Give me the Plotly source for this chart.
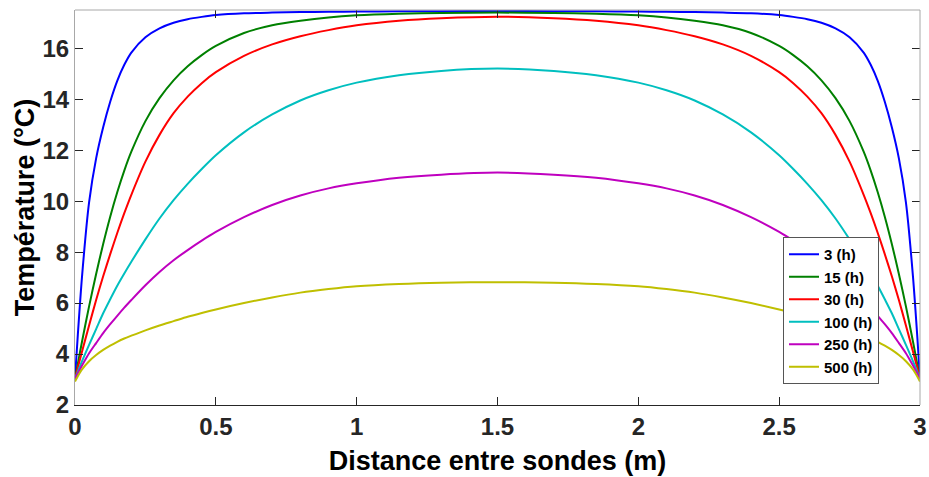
import plotly.graph_objects as go

# ---- data ----
# distance between probes (m), shared by all series
distance_m = [0, 0.01, 0.025, 0.05, 0.075, 0.1, 0.125, 0.15, 0.175, 0.2, 0.25, 0.3, 0.35, 0.4, 0.45,
              0.5, 0.6, 0.7, 0.8, 0.9, 1.0, 1.15, 1.3, 1.5,
              1.7, 1.85, 2.0, 2.1, 2.2, 2.3, 2.4, 2.5, 2.55, 2.6, 2.65, 2.7, 2.75, 2.8, 2.825, 2.85,
              2.875, 2.9, 2.925, 2.95, 2.975, 2.99, 3.0]

# temperature (°C) for each elapsed time
temp_3h = [3.04, 4.75, 7.05, 9.95, 11.68, 12.9, 13.9, 14.72, 15.35, 15.83, 16.43, 16.78, 17.0, 17.14, 17.23,
           17.3, 17.37, 17.4, 17.42, 17.43, 17.44, 17.45, 17.455, 17.46,
           17.455, 17.45, 17.44, 17.43, 17.42, 17.4, 17.37, 17.3, 17.23, 17.14, 17.0, 16.78, 16.43, 15.83,
           15.35, 14.72, 13.9, 12.9, 11.68, 9.95, 7.05, 4.75, 3.04]
temp_15h = [3.04, 3.62, 4.49, 5.87, 7.14, 8.32, 9.39, 10.35, 11.2, 11.94, 13.14, 14.04, 14.74, 15.29, 15.73,
            16.09, 16.6, 16.9, 17.08, 17.21, 17.29, 17.35, 17.38, 17.4,
            17.38, 17.35, 17.29, 17.21, 17.08, 16.9, 16.6, 16.09, 15.73, 15.29, 14.74, 14.04, 13.14, 11.94,
            11.2, 10.35, 9.39, 8.32, 7.14, 5.87, 4.49, 3.62, 3.04]
temp_30h = [3.04, 3.47, 4.1, 5.12, 6.12, 7.05, 7.92, 8.75, 9.53, 10.25, 11.55, 12.6, 13.45, 14.1, 14.63,
            15.06, 15.7, 16.15, 16.47, 16.71, 16.9, 17.08, 17.18, 17.24,
            17.18, 17.08, 16.9, 16.71, 16.47, 16.15, 15.7, 15.06, 14.63, 14.1, 13.45, 12.6, 11.55, 10.25,
            9.53, 8.75, 7.92, 7.05, 6.12, 5.12, 4.1, 3.47, 3.04]
temp_100h = [3.04, 3.31, 3.72, 4.36, 4.98, 5.6, 6.15, 6.68, 7.16, 7.62, 8.5, 9.32, 10.04, 10.68, 11.26,
             11.8, 12.7, 13.4, 13.95, 14.35, 14.65, 14.94, 15.11, 15.2,
             15.11, 14.94, 14.65, 14.35, 13.95, 13.4, 12.7, 11.8, 11.26, 10.68, 10.04, 9.32, 8.5, 7.62,
             7.16, 6.68, 6.15, 5.6, 4.98, 4.36, 3.72, 3.31, 3.04]
temp_250h = [3.04, 3.25, 3.55, 4.03, 4.43, 4.82, 5.17, 5.5, 5.82, 6.12, 6.7, 7.22, 7.68, 8.08, 8.45,
             8.79, 9.37, 9.85, 10.22, 10.5, 10.7, 10.92, 11.04, 11.12,
             11.04, 10.92, 10.7, 10.5, 10.22, 9.85, 9.37, 8.79, 8.45, 8.08, 7.68, 7.22, 6.7, 6.12,
             5.82, 5.5, 5.17, 4.82, 4.43, 4.03, 3.55, 3.25, 3.04]
temp_500h = [2.92, 3.13, 3.4, 3.72, 3.96, 4.16, 4.33, 4.48, 4.61, 4.72, 4.93, 5.12, 5.29, 5.46, 5.61,
             5.75, 6.0, 6.22, 6.41, 6.55, 6.66, 6.75, 6.8, 6.82,
             6.8, 6.75, 6.66, 6.55, 6.41, 6.22, 6.0, 5.75, 5.61, 5.46, 5.29, 5.12, 4.93, 4.72,
             4.61, 4.48, 4.33, 4.16, 3.96, 3.72, 3.4, 3.13, 2.92]

series_names = ["3 (h)", "15 (h)", "30 (h)", "100 (h)", "250 (h)", "500 (h)"]
series_values = [temp_3h, temp_15h, temp_30h, temp_100h, temp_250h, temp_500h]
series_colors = ["#0000ff", "#008000", "#ff0000", "#00bfbf", "#bf00bf", "#bfbf00"]

x_ticks = [0, 0.5, 1, 1.5, 2, 2.5, 3]
x_ticklabels = ["0", "0.5", "1", "1.5", "2", "2.5", "3"]
y_ticks = [2, 4, 6, 8, 10, 12, 14, 16]

FONT = "Liberation Sans, Arial, sans-serif"
DARK = "#262626"
GRAY = "#a8a8a8"

fig = go.Figure()
for name, vals, col in zip(series_names, series_values, series_colors):
    fig.add_trace(go.Scatter(x=distance_m, y=vals, mode="lines", name=name,
                             line=dict(color=col, width=2, shape="spline", smoothing=0.8)))

# helper trace for mirrored (top / right) ticks
fig.add_trace(go.Scatter(x=[0, 3], y=[2, 17.5], xaxis="x2", yaxis="y2", mode="lines",
                         line=dict(width=0), showlegend=False, hoverinfo="skip"))

tickfont = dict(family=FONT, size=24, color=DARK, weight="bold")
titlefont = dict(family=FONT, size=27, color="black", weight="bold")

fig.update_layout(
    width=929, height=477,
    margin=dict(l=75, r=9, t=10, b=72, autoexpand=False),
    paper_bgcolor="white", plot_bgcolor="white",
    font=dict(family=FONT, color=DARK),
    showlegend=True,
    xaxis=dict(range=[0, 3], tickvals=x_ticks, ticktext=x_ticklabels, automargin=False,
               ticks="inside", ticklen=8, tickcolor=DARK, tickwidth=1,
               showline=True, linecolor=DARK, linewidth=1, showgrid=False, zeroline=False,
               tickfont=tickfont,
               title=dict(text="Distance entre sondes (m)", font=titlefont, standoff=12)),
    yaxis=dict(range=[2, 17.5], tickvals=y_ticks, automargin=False,
               ticks="inside", ticklen=8, tickcolor=DARK, tickwidth=1,
               showline=True, linecolor=GRAY, linewidth=1, showgrid=False, zeroline=False,
               tickfont=tickfont,
               title=dict(text="Température (°C)", font=titlefont, standoff=0)),
    xaxis2=dict(range=[0, 3], overlaying="x", side="top", tickvals=x_ticks, showticklabels=False,
                automargin=False, ticks="inside", ticklen=8, tickcolor=DARK,
                showline=False, showgrid=False, zeroline=False),
    yaxis2=dict(range=[2, 17.5], overlaying="y", side="right", tickvals=y_ticks, showticklabels=False,
                automargin=False, ticks="inside", ticklen=8, tickcolor=DARK,
                showline=False, showgrid=False, zeroline=False),
    legend=dict(x=0.9515, y=0.4253, xanchor="right", yanchor="top",
                bgcolor="white", bordercolor="#555555", borderwidth=1,
                font=dict(family=FONT, size=15, color="black", weight="bold"),
                tracegroupgap=0, itemwidth=30),
    shapes=[dict(type="line", xref="paper", yref="paper", x0=0, x1=1, y0=1, y1=1,
                 line=dict(color=GRAY, width=1)),
            dict(type="line", xref="paper", yref="paper", x0=1, x1=1, y0=0, y1=1,
                 line=dict(color=GRAY, width=1))],
)

fig.write_html("out.html")
